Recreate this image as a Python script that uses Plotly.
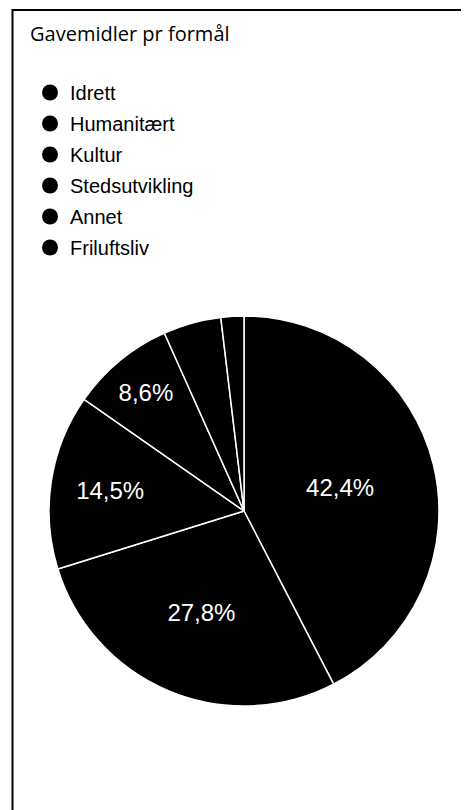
import plotly.graph_objects as go

categories = ["Idrett", "Humanitært", "Kultur", "Stedsutvikling", "Annet", "Friluftsliv"]
shares = [42.4, 27.8, 14.5, 8.6, 4.8, 1.9]
show_label = [True, True, True, True, False, False]
title_text = "Gavemidler pr formål"

# page body has an 8px margin, so the figure is offset by 8px
OFF = 8
W, H = 469 - OFF, 810 - OFF
cx, cy, r = 244 - OFF, 511 - OFF, 195

fig = go.Figure()
fig.add_trace(go.Pie(
    labels=categories,
    values=shares,
    sort=False,
    direction="clockwise",
    rotation=0,
    marker=dict(colors=["black"] * len(categories), line=dict(color="white", width=1.5)),
    texttemplate=["%{percent:.1%}" if s else "" for s in show_label],
    textposition="inside",
    insidetextorientation="horizontal",
    textfont=dict(family="Liberation Sans, Arial", size=24, color="white"),
    domain=dict(x=[(cx - r) / W, (cx + r) / W], y=[1 - (cy + r) / H, 1 - (cy - r) / H]),
    showlegend=False,
    hoverinfo="label+percent",
))

for i, c in enumerate(categories):
    fig.add_trace(go.Scatter(
        x=[None], y=[None], mode="markers", name=c,
        marker=dict(symbol="circle", size=16, color="black"),
        legendgroup=f"g{i}", showlegend=True,
    ))

fig.update_layout(
    width=W, height=H,
    margin=dict(l=0, r=0, t=0, b=0),
    paper_bgcolor="white", plot_bgcolor="white",
    separators=", ",
    xaxis=dict(visible=False), yaxis=dict(visible=False),
    title=dict(text=title_text, x=(30 - OFF) / W, xanchor="left", y=1 - (34 - OFF) / H, yanchor="middle",
               font=dict(family="Open Sans", size=20, color="black")),
    legend=dict(x=(30 - OFF) / W, xanchor="left", y=1 - (73 - OFF) / H, yanchor="top",
                font=dict(family="Liberation Sans, Arial", size=20, color="black"),
                tracegroupgap=2, bgcolor="rgba(0,0,0,0)"),
    shapes=[dict(type="rect", xref="paper", yref="paper",
                 x0=(12.5 - OFF) / W, x1=1.2, y0=-0.2, y1=1 - (10 - OFF) / H,
                 line=dict(color="black", width=2), fillcolor="rgba(0,0,0,0)")],
)

fig.write_html("out.html")
